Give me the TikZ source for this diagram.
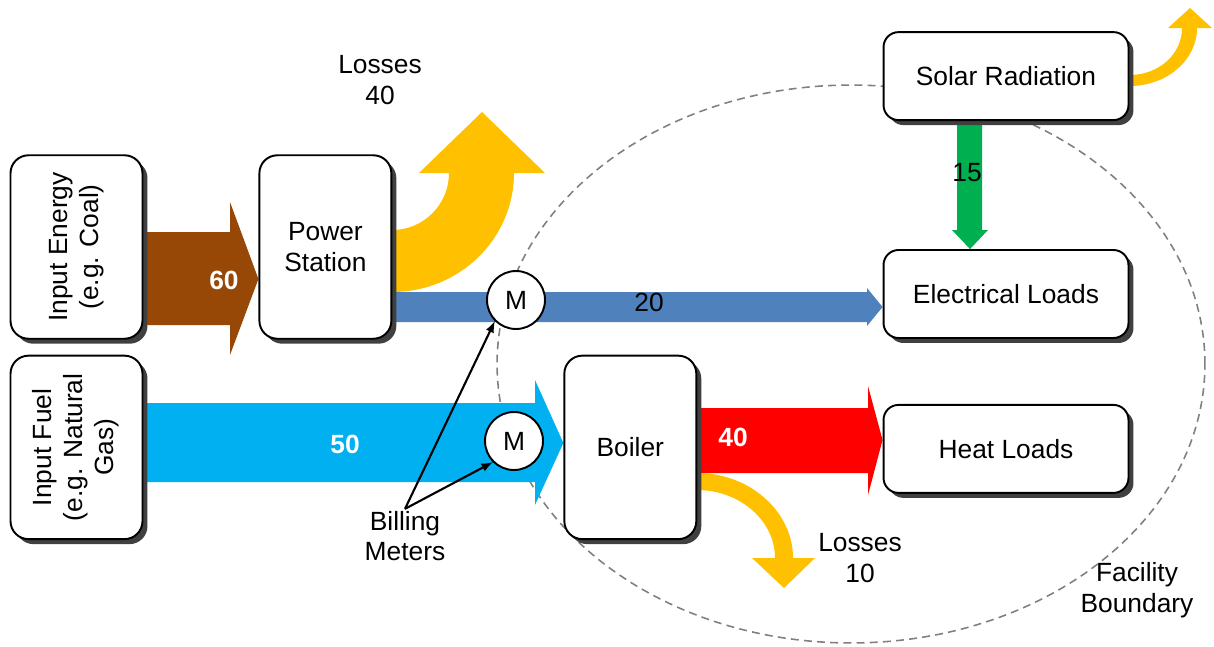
\documentclass[tikz,border=0pt]{standalone}
\usepackage{fontspec}
\setmainfont{Liberation Sans}
\usepackage{graphicx}
\usepackage{tikz}
\usetikzlibrary{positioning}
\usetikzlibrary{shadows}
\usetikzlibrary{backgrounds}

\definecolor{coalbrown}{HTML}{974706}
\definecolor{gascyan}{HTML}{00B0F0}
\definecolor{elecblue}{HTML}{4F81BD}
\definecolor{heatred}{HTML}{FF0000}
\definecolor{solargreen}{HTML}{00B050}
\definecolor{lossorange}{HTML}{FFC000}
\definecolor{boundgray}{HTML}{808080}

\begin{document}
\begin{tikzpicture}[x=0.02cm, y=-0.02cm,
                          tallbox/.style={rectangle, draw, fill=white, line width=1.1pt, rounded corners=0.36cm, minimum width=2.64cm, minimum height=3.67cm, align=center, font=\fontsize{15}{17.5}\selectfont, drop shadow={shadow xshift=0.1cm, shadow yshift=-0.1cm, fill=black!75, opacity=1}},
                          widebox/.style={rectangle, draw, fill=white, line width=1.1pt, rounded corners=0.3cm, minimum width=4.9cm, minimum height=1.76cm, align=center, font=\fontsize{15}{17.5}\selectfont, drop shadow={shadow xshift=0.1cm, shadow yshift=-0.1cm, fill=black!75, opacity=1}},
                          meter/.style={circle, draw, fill=white, line width=1.1pt, minimum size=1.16cm, inner sep=0pt, font=\fontsize{15}{17.5}\selectfont},
                          lbl/.style={align=center, inner sep=1pt, font=\fontsize{15}{17.5}\selectfont},
                          flowlbl/.style={inner sep=1pt, text=white, font=\fontsize{15}{17.5}\selectfont\bfseries},
                      ]
                      \useasboundingbox (0,0) rectangle (1214,646);

                      %Nodes
                      \node[tallbox]    (coal)     at (76.5,247)            {\rotatebox{90}{\begin{tabular}{@{}c@{}}Input Energy\\(e.g. Coal)\end{tabular}}};
                      \node[tallbox]    (station)  [right=2.3cm of coal]    {Power\\Station};
                      \node[tallbox]    (fuel)     [below=0.3cm of coal]    {\rotatebox{90}{\begin{tabular}{@{}c@{}}Input Fuel\\(e.g. Natural\\Gas)\end{tabular}}};
                      \node[tallbox]    (boiler)   [right=8.4cm of fuel]    {Boiler};
                      \node[widebox]    (elec)     at (1006,294)            {Electrical Loads};
                      \node[widebox]    (solar)    [above=2.56cm of elec]   {Solar Radiation};
                      \node[widebox]    (heat)     [below=1.3cm of elec]    {Heat Loads};
                      \node[meter]      (m_elec)   at (516,300)             {M};
                      \node[meter]      (m_gas)    at (514,441)             {M};

                      %Labels
                      \node[lbl]        (loss_ps)  at (380,80)              {Losses\\40};
                      \node[lbl]        (loss_bo)  at (860,558)             {Losses\\10};
                      \node[lbl]        (facility) at (1137,590)            {Facility\\Boundary};
                      \node[lbl]        (bill)     at (405,536)             {Billing\\Meters};
                      \node[lbl]        (v_20)     at (649,302)             {20};
                      \node[lbl]        (v_15)     at (967,173)             {15};
                      \node[flowlbl]    (v_60)     at (224,280)             {60};
                      \node[flowlbl]    (v_50)     at (345,444)             {50};
                      \node[flowlbl]    (v_40)     at (733,437)             {40};

                      %Flows
                      \begin{scope}[on background layer]
                      \draw[boundgray, line width=0.9pt, dash pattern=on 4.5pt off 3pt] (851,364) ellipse [x radius=7.08cm, y radius=5.58cm];
                      \fill[coalbrown] (coal.east |- 0,232) -- (230,232) -- (230,202) -- (station.west |- 0,279) -- (230,355) -- (230,325) -- (coal.east |- 0,325) -- cycle;
                      \fill[lossorange] (station.east |- 0,230) .. controls (423.5,230) and (449,204.5) .. (449,173) -- (419,173) -- (482,112) -- (545,173) -- (514,173) .. controls (514,238.7) and (459.4,292) .. (station.east |- 0,292) -- cycle;
                      \fill[elecblue] (station.east |- 0,292) -- (867,292) -- (867,288) -- (elec.west |- 0,307) -- (867,326) -- (867,322) -- (station.east |- 0,322) -- cycle;
                      \fill[gascyan] (fuel.east |- 0,403) -- (535,403) -- (535,380) -- (boiler.west |- 0,443) -- (535,505) -- (535,482) -- (fuel.east |- 0,482) -- cycle;
                      \fill[heatred] (boiler.east |- 0,408) -- (868,408) -- (868,386) -- (heat.west |- 0,440) -- (868,495) -- (868,473) -- (boiler.east |- 0,473) -- cycle;
                      \fill[lossorange] (boiler.east |- 0,490) .. controls (739,490) and (775,520) .. (775,558) -- (752,558) -- (784,588) -- (815,558) -- (793,558) .. controls (793,511) and (749,473) .. (boiler.east |- 0,473) -- cycle;
                      \fill[lossorange] (solar.east |- 0,75) .. controls (1159,75) and (1182,54) .. (1182,28) -- (1168,28) -- (1190,8) -- (1212,28) -- (1197,28) .. controls (1197,60) and (1167,86) .. (solar.east |- 0,86) -- cycle;
                      \fill[solargreen] (solar.south -| 957,0) -- (957,230) -- (952,230) -- (elec.north -| 970,0) -- (988,230) -- (982,230) -- (solar.south -| 982,0) -- cycle;
                      \end{scope}

                      %Lines
                      \draw[-latex, line width=1.2pt] (bill.north) -- (m_elec.south west);
                      \draw[-latex, line width=1.2pt] (bill.north) -- (m_gas.south west);
                  \end{tikzpicture}
\end{document}
